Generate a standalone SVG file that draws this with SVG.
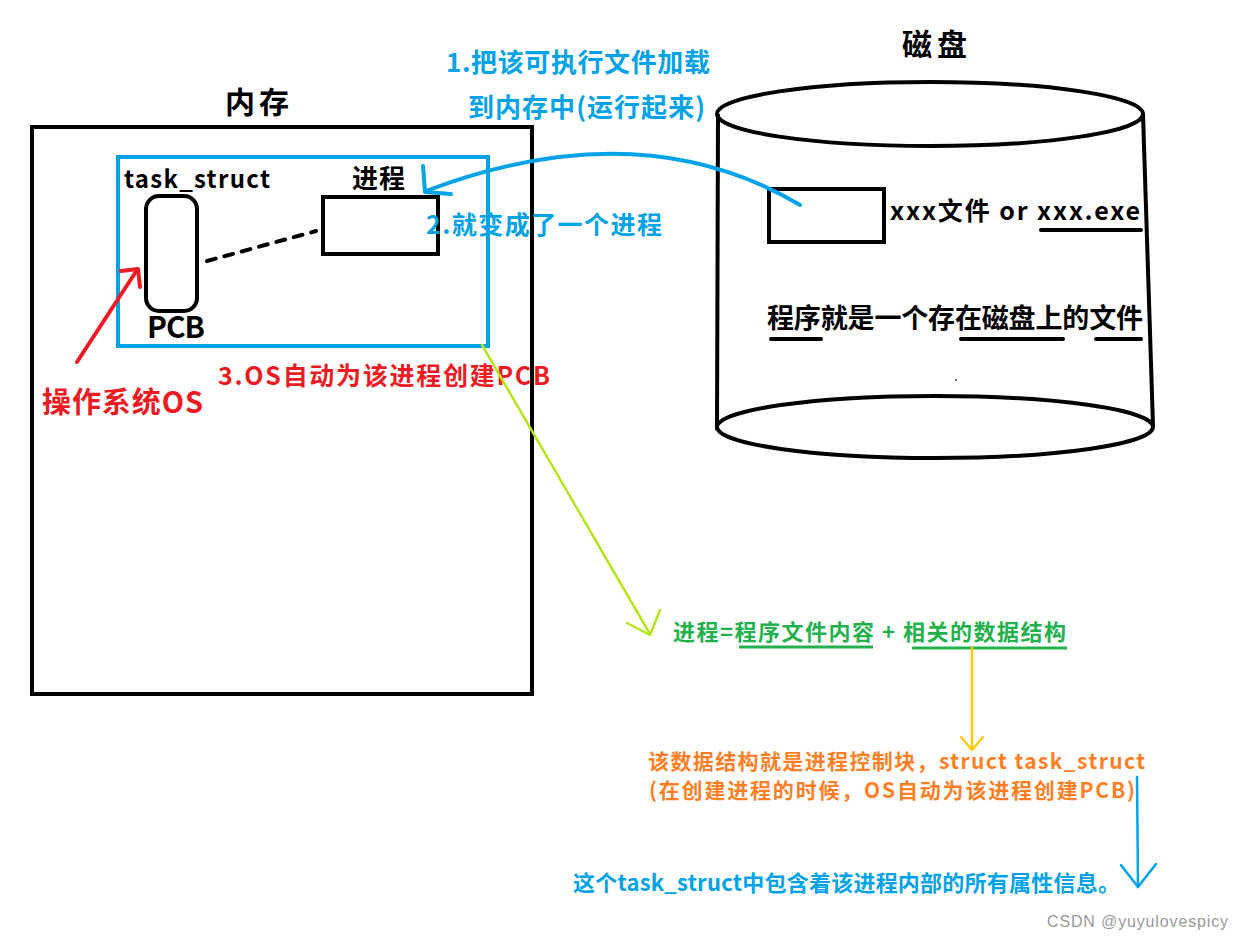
<svg xmlns="http://www.w3.org/2000/svg" width="1244" height="940" viewBox="0 0 1244 940">
<style>
text{font-family:"Noto Sans CJK SC","Noto Sans",sans-serif;font-weight:bold;}
.k{fill:#000;}
.b{fill:#00a2e8;}
.r{fill:#ed1c24;}
.g{fill:#22b14c;}
.o{fill:#ff7f27;}
.box{fill:none;stroke:#000;stroke-width:4;}
.ul{stroke:#000;stroke-width:4;stroke-linecap:round;fill:none;}
</style>
<rect width="1244" height="940" fill="#fff"/>

<g id="memory">
  <text class="k" x="225" y="113" font-size="30" textLength="64">内存</text>
  <rect class="box" x="32" y="127" width="500" height="567"/>
</g>

<g id="process-area">
  <rect x="118" y="157" width="370" height="189" fill="none" stroke="#00a2e8" stroke-width="4"/>
  <text class="k" x="124" y="188" font-size="24" textLength="146">task_struct</text>
</g>

<g id="pcb">
  <rect class="box" x="146" y="196" width="51" height="115" rx="13"/>
  <text class="k" x="147" y="338" font-size="30" textLength="58">PCB</text>
</g>

<g id="process">
  <text class="k" x="352" y="188" font-size="26" textLength="53">进程</text>
  <rect class="box" x="323" y="197" width="115" height="57"/>
</g>

<g id="os-label">
  <text class="r" x="42" y="413" font-size="29" textLength="161">操作系统OS</text>
  <text class="r" x="218" y="385" font-size="25" textLength="332">3.OS自动为该进程创建PCB</text>
</g>

<g id="disk">
  <text class="k" x="902" y="55" font-size="30" textLength="65">磁盘</text>
  <ellipse class="box" cx="930" cy="114" rx="213" ry="32"/>
  <line class="box" x1="718" y1="114" x2="717" y2="430"/>
  <line class="box" x1="1143" y1="114" x2="1153" y2="426"/>
  <ellipse class="box" cx="935" cy="427" rx="218" ry="31"/>
  <circle cx="956" cy="380" r="1" fill="#333"/>
</g>

<g id="file">
  <rect class="box" x="769" y="189" width="115" height="53"/>
  <text class="k" x="890" y="220" font-size="25" textLength="250">xxx文件 or xxx.exe</text>
  <line class="ul" x1="1041" y1="230" x2="1141" y2="230"/>
</g>

<g id="program-note">
  <text class="k" x="767" y="328" font-size="27" textLength="376">程序就是一个存在磁盘上的文件</text>
  <line class="ul" x1="771" y1="339" x2="821" y2="339"/>
  <line class="ul" x1="961" y1="339" x2="1063" y2="339"/>
  <line class="ul" x1="1096" y1="339" x2="1141" y2="339"/>
</g>

<g id="load-label">
  <text class="b" x="446" y="72" font-size="26" textLength="264">1.把该可执行文件加载</text>
  <text class="b" x="468" y="117" font-size="26" textLength="237">到内存中(运行起来)</text>
  <text class="b" x="426" y="234" font-size="25" textLength="236">2.就变成了一个进程</text>
</g>

<g id="formula">
  <text class="g" x="673" y="640" font-size="22" textLength="393">进程=程序文件内容 + 相关的数据结构</text>
  <line x1="739" y1="647" x2="873" y2="647" stroke="#22b14c" stroke-width="3"/>
  <line x1="912" y1="648" x2="1067" y2="648" stroke="#22b14c" stroke-width="3"/>
</g>

<g id="pcb-note">
  <text class="o" x="648" y="769" font-size="21" textLength="497">该数据结构就是进程控制块，struct task_struct</text>
  <text class="o" x="649" y="798" font-size="21" textLength="486">(在创建进程的时候，OS自动为该进程创建PCB)</text>
</g>

<g id="info-note">
  <text class="b" x="573" y="891" font-size="22" textLength="547">这个task_struct中包含着该进程内部的所有属性信息。</text>
</g>

<g id="connectors" fill="none" stroke-linecap="round" stroke-linejoin="round">
  <path d="M800 205 Q640 110 426 191" stroke="#00a2e8" stroke-width="4"/>
  <path d="M423 166 L425 192 L451 194" stroke="#00a2e8" stroke-width="4"/>
  <line x1="207" y1="261" x2="316" y2="231" stroke="#000" stroke-width="4" stroke-dasharray="9,9"/>
  <line x1="77" y1="362" x2="137" y2="270" stroke="#ed1c24" stroke-width="4"/>
  <path d="M121 271 L138 269 L140 287" stroke="#ed1c24" stroke-width="4"/>
  <line x1="482" y1="345" x2="650" y2="634" stroke="#b5e61d" stroke-width="2.5"/>
  <path d="M627 623 L650 635 L660 610" stroke="#b5e61d" stroke-width="2.5"/>
  <line x1="972" y1="648" x2="972" y2="749" stroke="#ffc90e" stroke-width="2.5"/>
  <path d="M961 737 L972 750 L983 737" stroke="#ffc90e" stroke-width="2.5"/>
  <line x1="1137" y1="777" x2="1138" y2="887" stroke="#00a2e8" stroke-width="2.5"/>
  <path d="M1121 865 L1138 887 L1156 864" stroke="#00a2e8" stroke-width="2.5"/>
</g>

<text x="1047" y="927" font-size="16" fill="#999" style="font-family:'Liberation Sans',Arial,sans-serif;font-weight:normal" textLength="181">CSDN @yuyulovespicy</text>
</svg>
